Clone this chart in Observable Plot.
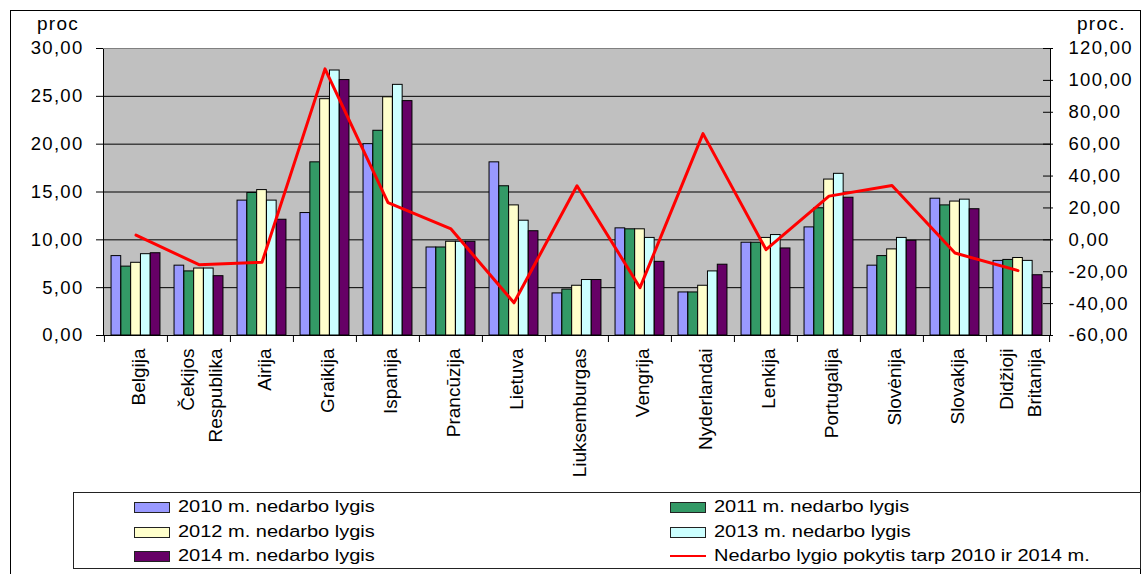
<!DOCTYPE html>
<html>
<head>
<meta charset="utf-8">
<script src="https://cdn.jsdelivr.net/npm/d3@7"></script>
<script src="https://cdn.jsdelivr.net/npm/@observablehq/plot@0.6"></script>
<style>
  body { margin: 0; background: #fff; font-family: "Liberation Sans", Arial, sans-serif; }
  #wrap { position: relative; width: 1143px; height: 574px; overflow: hidden; background: #fff; }
  #outer { position: absolute; left: 10px; top: 10px; width: 1131px; height: 580px; border: 1px solid #000; box-sizing: border-box; }
  #chart { position: absolute; left: 0; top: 0; }
  #chart svg g[aria-label="y-axis tick label"] { letter-spacing: 1.3px; }
  .unit { position: absolute; top: 14px; font-size: 19px; line-height: 19px; letter-spacing: 1.3px; color: #000; }
  #legend { position: absolute; left: 73px; top: 492px; width: 1068px; height: 77px; border: 1px solid #222; box-sizing: border-box; }
  .item { position: absolute; height: 20px; }
  .sw { position: absolute; top: 5px; width: 34px; height: 9px; border: 1px solid #222; }
  .ln { position: absolute; top: 9px; width: 36px; height: 2px; }
  .lab { position: absolute; left: 44px; top: 0; font-size: 16px; line-height: 20px; white-space: nowrap;
         display: inline-block; transform: scaleX(1.25); transform-origin: left center; }
</style>
</head>
<body>
<div id="wrap">
  <div id="outer"></div>
  <div id="chart"></div>
  <div class="unit" style="left:37px">proc</div>
  <div class="unit" style="left:1077px">proc.</div>
  <div id="legend"></div>
</div>
<script>
// Countries along the category axis
const countries = ["Belgija", "Čekijos Respublika", "Airija", "Graikija", "Ispanija", "Prancūzija",
  "Lietuva", "Liuksemburgas", "Vengrija", "Nyderlandai", "Lenkija", "Portugalija",
  "Slovėnija", "Slovakija", "Didžioji Britanija"];

// Unemployment rate by year, percent (left axis)
const u2010 = [8.3, 7.3, 14.1, 12.8, 20.0, 9.2, 18.1, 4.4, 11.2, 4.5, 9.7, 11.3, 7.3, 14.3, 7.8];
const u2011 = [7.2, 6.7, 14.9, 18.1, 21.4, 9.2, 15.6, 4.8, 11.1, 4.5, 9.7, 13.3, 8.3, 13.6, 7.9];
const u2012 = [7.6, 7.0, 15.2, 24.7, 24.9, 9.8, 13.6, 5.2, 11.1, 5.2, 10.2, 16.3, 9.0, 14.0, 8.1];
const u2013 = [8.5, 7.0, 14.1, 27.7, 26.2, 9.8, 12.0, 5.8, 10.2, 6.7, 10.5, 16.9, 10.2, 14.2, 7.8];
const u2014 = [8.6, 6.2, 12.1, 26.7, 24.5, 9.8, 10.9, 5.8, 7.7, 7.4, 9.1, 14.4, 9.9, 13.2, 6.3];

// Change of the unemployment rate 2010 -> 2014, percent (right axis)
const change = [3.0, -15.6, -14.1, 107.2, 23.4, 6.8, -39.5, 33.9, -30.0, 66.6, -6.1, 27.4, 34.1, -8.3, -19.3];

// Series names and colours
const seriesNames = ["2010 m. nedarbo lygis", "2011 m. nedarbo lygis", "2012 m. nedarbo lygis",
  "2013 m. nedarbo lygis", "2014 m. nedarbo lygis"];
const seriesValues = [u2010, u2011, u2012, u2013, u2014];
const seriesColors = ["#9999FF", "#339966", "#FFFFCC", "#CCFFFF", "#660066"];
const lineName = "Nedarbo lygio pokytis tarp 2010 ir 2014 m.";
const lineColor = "#FF0000";

// Axis ticks
const leftTicks = [0, 5, 10, 15, 20, 25, 30];
const rightTicks = [-60, -40, -20, 0, 20, 40, 60, 80, 100, 120];

// Layout
const W = 1143, H = 485;
const marginLeft = 103, marginRight = 93, marginTop = 48, marginBottom = H - 335;
const band = (W - marginLeft - marginRight) / countries.length;
const groupW = band * 0.777;
const barW = groupW / seriesNames.length;
const pad = (band - groupW) / 2;

// Right axis values are mapped onto the left axis domain
const lMin = leftTicks[0], lMax = leftTicks[leftTicks.length - 1];
const rMin = rightTicks[0], rMax = rightTicks[rightTicks.length - 1];
const toLeft = v => lMin + (v - rMin) / (rMax - rMin) * (lMax - lMin);

const fmt = v => v.toFixed(2).replace(".", ",");

const rows = seriesNames.map((s, j) => countries.map((c, i) => ({country: c, series: s, value: seriesValues[j][i]})));
const lineData = countries.map((c, i) => ({country: c, change: change[i]}));

const plot = Plot.plot({
  width: W, height: H,
  marginLeft, marginRight, marginTop, marginBottom,
  style: {fontFamily: "'Liberation Sans', Arial, sans-serif", background: "transparent", color: "#000"},
  x: {type: "band", domain: countries, padding: 0, label: null},
  y: {domain: [lMin, lMax], label: null},
  marks: [
    Plot.frame({fill: "#C0C0C0", stroke: null}),
    Plot.ruleY(leftTicks.slice(1, -1), {stroke: "#000", strokeWidth: 1}),
    ...rows.map((data, j) => Plot.barY(data, {
      x: "country", y: "value",
      fill: seriesColors[j], stroke: "#000", strokeWidth: 1,
      insetLeft: pad + j * barW, insetRight: band - pad - (j + 1) * barW
    })),
    Plot.frame({stroke: "#000", strokeWidth: 1}),
    Plot.ruleY([lMax], {stroke: "#808080", strokeWidth: 1}),
    Plot.line(lineData, {x: "country", y: d => toLeft(d.change), stroke: lineColor, strokeWidth: 3}),
    // left axis
    Plot.axisY(leftTicks, {anchor: "left", tickSize: 7, tickPadding: 13, tickFormat: fmt, fontSize: 18.5, label: null}),
    // right axis (ticks cross the axis line)
    Plot.axisY(rightTicks, {anchor: "right", y: toLeft, tickSize: 2, tickPadding: 16, tickFormat: fmt, fontSize: 18.5, label: null}),
    Plot.axisY(rightTicks, {anchor: "right", y: toLeft, tickSize: 8, dx: -8, tickFormat: () => "", label: null}),
    // category labels
    Plot.axisX({anchor: "bottom", tickSize: 0, tickRotate: -90, tickPadding: 13, fontSize: 19, lineHeight: 1.5,
      tickFormat: d => d.replace(" ", "\n"), label: null}),
    // tick marks on category boundaries
    Plot.axisX({anchor: "bottom", tickSize: 7, dx: -band / 2, tickFormat: () => "", label: null}),
    Plot.axisX([countries[countries.length - 1]], {anchor: "bottom", tickSize: 7, dx: band / 2, tickFormat: () => "", label: null})
  ]
});
document.getElementById("chart").appendChild(plot);

// Legend
const legend = document.getElementById("legend");
const legendItems = [
  {name: seriesNames[0], color: seriesColors[0], col: 0, row: 0},
  {name: seriesNames[1], color: seriesColors[1], col: 1, row: 0},
  {name: seriesNames[2], color: seriesColors[2], col: 0, row: 1},
  {name: seriesNames[3], color: seriesColors[3], col: 1, row: 1},
  {name: seriesNames[4], color: seriesColors[4], col: 0, row: 2},
  {name: lineName, color: lineColor, col: 1, row: 2, line: true}
];
const colX = [60, 596];
const rowY = [4, 29, 53];
for (const it of legendItems) {
  const d = document.createElement("div");
  d.className = "item";
  d.style.left = colX[it.col] + "px";
  d.style.top = rowY[it.row] + "px";
  const sw = document.createElement("div");
  sw.className = it.line ? "ln" : "sw";
  sw.style.background = it.color;
  d.appendChild(sw);
  const t = document.createElement("span");
  t.className = "lab";
  t.textContent = it.name;
  d.appendChild(t);
  legend.appendChild(d);
}
</script>
</body>
</html>
